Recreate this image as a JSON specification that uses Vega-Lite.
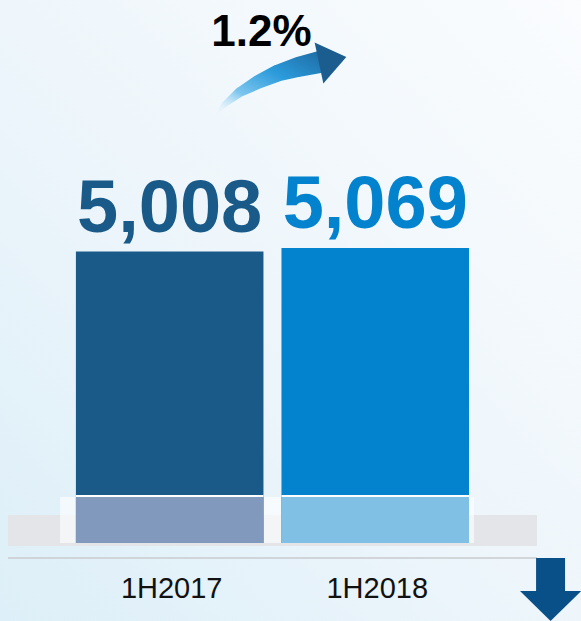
{
  "$schema": "https://vega.github.io/schema/vega-lite/v6.json",
  "width": 581,
  "height": 621,
  "padding": 0,
  "autosize": {"type": "none"},
  "background": "#f2f8fc",
  "config": {"view": {"stroke": null}},
  "data": {"values": [
    {"period": "1H2017", "value": 5008},
    {"period": "1H2018", "value": 5069}
  ]},
  "resolve": {"scale": {"x": "independent", "color": "independent"}},
  "layer": [
    {
      "data": {"values": [{}]},
      "mark": {"type": "rect", "color": {"gradient": "linear", "x1": 0, "y1": 1, "x2": 1, "y2": 0, "stops": [
        {"offset": 0, "color": "#ddeff8"},
        {"offset": 0.5, "color": "#eef6fb"},
        {"offset": 1, "color": "#fafcfe"}
      ]}},
      "encoding": {}
    },
    {
      "data": {"values": [{}]},
      "mark": {"type": "rect", "color": "#e3e5e9"},
      "encoding": {
        "x": {"datum": 0.214, "type": "quantitative", "scale": {"domain": [0.175, 3.0], "nice": false, "zero": false}, "axis": null},
        "x2": {"datum": 2.786},
        "y": {"datum": 481, "type": "quantitative", "scale": {"domain": [-1340.3, 9330.4], "nice": false, "zero": false}, "axis": null},
        "y2": {"datum": -51.5}
      }
    },
    {
      "data": {"values": [{}]},
      "mark": {"type": "rect", "color": "#ffffff", "opacity": 0.6},
      "encoding": {
        "x": {"datum": 0.467, "type": "quantitative", "scale": {"domain": [0.175, 3.0], "nice": false, "zero": false}, "axis": null},
        "x2": {"datum": 2.48},
        "y": {"datum": 790.4, "type": "quantitative", "scale": {"domain": [-1340.3, 9330.4], "nice": false, "zero": false}, "axis": null},
        "y2": {"datum": 0}
      }
    },
    {
      "mark": {"type": "bar"},
      "encoding": {
        "x": {"field": "period", "type": "nominal", "scale": {"type": "band", "domain": ["1H2017", "1H2018"], "paddingInner": 0.0876, "paddingOuter": 0.457, "align": 0.404}, "axis": null},
        "y": {"field": "value", "type": "quantitative", "scale": {"domain": [-1340.3, 9330.4], "nice": false, "zero": false}, "axis": null},
        "y2": {"datum": 0},
        "color": {"field": "period", "type": "nominal", "scale": {"domain": ["1H2017", "1H2018"], "range": ["#1a5a89", "#0382cd"]}, "legend": null}
      }
    },
    {
      "mark": {"type": "bar", "color": "#ffffff"},
      "encoding": {
        "x": {"field": "period", "type": "nominal", "scale": {"type": "band", "domain": ["1H2017", "1H2018"], "paddingInner": 0.0876, "paddingOuter": 0.457, "align": 0.404}, "axis": null},
        "y": {"datum": 824.8, "type": "quantitative", "scale": {"domain": [-1340.3, 9330.4], "nice": false, "zero": false}, "axis": null},
        "y2": {"datum": 790.4}
      }
    },
    {
      "mark": {"type": "bar"},
      "encoding": {
        "x": {"field": "period", "type": "nominal", "scale": {"type": "band", "domain": ["1H2017", "1H2018"], "paddingInner": 0.0876, "paddingOuter": 0.457, "align": 0.404}, "axis": null},
        "y": {"datum": 790.4, "type": "quantitative", "scale": {"domain": [-1340.3, 9330.4], "nice": false, "zero": false}, "axis": null},
        "y2": {"datum": 0},
        "color": {"field": "period", "type": "nominal", "scale": {"domain": ["1H2017", "1H2018"], "range": ["#8099bd", "#80c0e5"]}, "legend": null}
      }
    },
    {
      "data": {"values": [{}]},
      "mark": {"type": "rule", "color": "#c9cbce", "strokeWidth": 1.5},
      "encoding": {
        "x": {"datum": 0.214, "type": "quantitative", "scale": {"domain": [0.175, 3.0], "nice": false, "zero": false}, "axis": null},
        "x2": {"datum": 2.786},
        "y": {"datum": -257.7, "type": "quantitative", "scale": {"domain": [-1340.3, 9330.4], "nice": false, "zero": false}, "axis": null}
      }
    },
    {
      "mark": {"type": "text", "font": "Liberation Sans, Arial, sans-serif", "fontSize": 29, "color": "#111111", "baseline": "alphabetic", "align": "center", "dx": 2},
      "encoding": {
        "x": {"field": "period", "type": "nominal", "scale": {"type": "band", "domain": ["1H2017", "1H2018"], "paddingInner": 0.0876, "paddingOuter": 0.457, "align": 0.404}, "axis": null},
        "y": {"datum": -945, "type": "quantitative", "scale": {"domain": [-1340.3, 9330.4], "nice": false, "zero": false}, "axis": null},
        "text": {"field": "period"}
      }
    },
    {
      "mark": {"type": "text", "font": "Liberation Sans, Arial, sans-serif", "fontWeight": "bold", "fontSize": 74, "baseline": "alphabetic", "align": "center", "dy": -20},
      "encoding": {
        "x": {"field": "period", "type": "nominal", "scale": {"type": "band", "domain": ["1H2017", "1H2018"], "paddingInner": 0.0876, "paddingOuter": 0.457, "align": 0.404}, "axis": null},
        "y": {"field": "value", "type": "quantitative", "scale": {"domain": [-1340.3, 9330.4], "nice": false, "zero": false}, "axis": null},
        "text": {"field": "value", "type": "quantitative", "format": ","},
        "color": {"field": "period", "type": "nominal", "scale": {"domain": ["1H2017", "1H2018"], "range": ["#1a5a89", "#0382cd"]}, "legend": null}
      }
    },
    {
      "data": {"values": [
        {"cx": 1.2107, "cy": 7320, "t": 0},
        {"cx": 1.2690, "cy": 7543, "t": 0.27},
        {"cx": 1.3420, "cy": 7750, "t": 0.45},
        {"cx": 1.4295, "cy": 7921, "t": 0.63},
        {"cx": 1.5268, "cy": 8076, "t": 0.77},
        {"cx": 1.6240, "cy": 8179, "t": 0.9},
        {"cx": 1.7310, "cy": 8265, "t": 1}
      ]},
      "mark": {"type": "trail", "color": {"gradient": "linear", "x1": 0, "y1": 1, "x2": 1, "y2": 0, "stops": [
        {"offset": 0, "color": "rgba(255,255,255,0)"},
        {"offset": 0.3, "color": "#7cc6ee"},
        {"offset": 0.6, "color": "#2b9bdb"},
        {"offset": 1, "color": "#1c659c"}
      ]}},
      "encoding": {
        "x": {"field": "cx", "type": "quantitative", "scale": {"domain": [0.175, 3.0], "nice": false, "zero": false}, "axis": null},
        "y": {"field": "cy", "type": "quantitative", "scale": {"domain": [-1340.3, 9330.4], "nice": false, "zero": false}, "axis": null},
        "size": {"field": "t", "type": "quantitative", "scale": {"domain": [0, 1], "range": [0, 22]}, "legend": null},
        "order": {"field": "t"}
      }
    },
    {
      "data": {"values": [{}]},
      "mark": {"type": "point", "shape": "M -0.33 -1 L 1 0 L -0.33 1 Z", "filled": true, "opacity": 1, "color": "#1b5d8f", "size": 1764, "angle": 348, "strokeWidth": 0},
      "encoding": {
        "x": {"datum": 1.759, "type": "quantitative", "scale": {"domain": [0.175, 3.0], "nice": false, "zero": false}, "axis": null},
        "y": {"datum": 8274, "type": "quantitative", "scale": {"domain": [-1340.3, 9330.4], "nice": false, "zero": false}, "axis": null}
      }
    },
    {
      "data": {"values": [{"label": "1.2%"}]},
      "mark": {"type": "text", "font": "Liberation Sans, Arial, sans-serif", "fontWeight": "bold", "fontSize": 44, "color": "#000000", "baseline": "alphabetic", "align": "center"},
      "encoding": {
        "x": {"datum": 1.4465, "type": "quantitative", "scale": {"domain": [0.175, 3.0], "nice": false, "zero": false}, "axis": null},
        "y": {"datum": 8540, "type": "quantitative", "scale": {"domain": [-1340.3, 9330.4], "nice": false, "zero": false}, "axis": null},
        "text": {"field": "label"}
      }
    },
    {
      "data": {"values": [{}]},
      "mark": {"type": "point", "shape": "M -0.46 -1 L 0.46 -1 L 0.46 0.05 L 0.97 0.05 L 0 1 L -0.97 0.05 L -0.46 0.05 Z", "filled": true, "opacity": 1, "color": "#0a5088", "size": 3969, "strokeWidth": 0},
      "encoding": {
        "x": {"datum": 2.852, "type": "quantitative", "scale": {"domain": [0.175, 3.0], "nice": false, "zero": false}, "axis": null},
        "y": {"datum": -799, "type": "quantitative", "scale": {"domain": [-1340.3, 9330.4], "nice": false, "zero": false}, "axis": null}
      }
    }
  ]
}
